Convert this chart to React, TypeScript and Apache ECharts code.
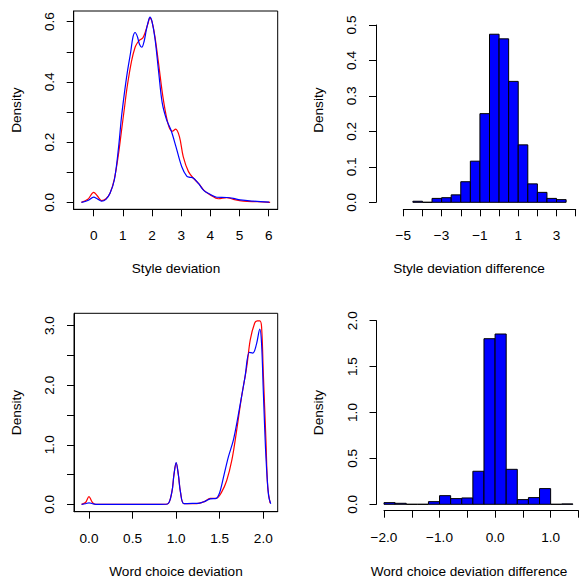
import React, { useEffect, useRef } from 'react';
import * as echarts from 'echarts';

// ---- Panel 1: Style deviation density (red / blue) ----
const styleRedX = [-0.42, -0.2, 0, 0.12, 0.27, 0.42, 0.56, 0.71, 0.85, 0.95, 1.05, 1.15, 1.3, 1.42, 1.5, 1.59, 1.68, 1.75, 1.85, 1.93, 2.0, 2.1, 2.22, 2.39, 2.56, 2.69, 2.81, 2.94, 3.07, 3.25, 3.42, 3.61, 3.79, 4.01, 4.27, 4.56, 4.79, 5.13, 5.6, 6.05];
const styleRedY = [0, 0.01, 0.033, 0.022, 0.006, 0.012, 0.03, 0.078, 0.16, 0.235, 0.31, 0.385, 0.47, 0.515, 0.53, 0.54, 0.545, 0.56, 0.59, 0.612, 0.6, 0.55, 0.465, 0.34, 0.257, 0.236, 0.243, 0.218, 0.152, 0.102, 0.08, 0.061, 0.039, 0.024, 0.012, 0.016, 0.01, 0.004, 0.002, 0];
const styleBlueX = [-0.42, -0.2, 0, 0.12, 0.27, 0.42, 0.56, 0.71, 0.85, 0.95, 1.05, 1.15, 1.27, 1.35, 1.42, 1.5, 1.57, 1.65, 1.73, 1.8, 1.87, 1.93, 2.0, 2.1, 2.22, 2.35, 2.5, 2.65, 2.82, 3.02, 3.19, 3.3, 3.39, 3.59, 3.78, 3.99, 4.22, 4.56, 4.79, 5.02, 5.47, 6.02];
const styleBlueY = [0, 0.006, 0.017, 0.012, 0.004, 0.01, 0.03, 0.075, 0.18, 0.28, 0.36, 0.43, 0.5, 0.55, 0.564, 0.55, 0.525, 0.515, 0.535, 0.57, 0.6, 0.615, 0.6, 0.545, 0.44, 0.33, 0.274, 0.24, 0.185, 0.118, 0.087, 0.083, 0.082, 0.063, 0.039, 0.027, 0.017, 0.016, 0.013, 0.008, 0.004, 0.001];

// ---- Panel 2: Style deviation difference histogram ----
const styleHistBreaks = [-4.5, -4, -3.5, -3, -2.5, -2, -1.5, -1, -0.5, 0, 0.5, 1, 1.5, 2, 2.5, 3, 3.5];
const styleHistDensity = [0.003, 0, 0.011, 0.013, 0.021, 0.058, 0.116, 0.25, 0.474, 0.461, 0.341, 0.162, 0.052, 0.028, 0.011, 0.0075];

// ---- Panel 3: Word choice deviation density ----
const wordRedX = [-0.085, -0.04, 0, 0.035, 0.07, 0.2, 0.5, 0.8, 0.9, 0.95, 0.975, 1.0, 1.025, 1.05, 1.09, 1.2, 1.27, 1.33, 1.39, 1.46, 1.52, 1.58, 1.64, 1.69, 1.75, 1.81, 1.85, 1.9, 1.93, 1.96, 1.98, 2.0, 2.03, 2.05, 2.078];
const wordRedY = [0, 0.03, 0.13, 0.04, 0, 0, 0, 0, 0.005, 0.2, 0.5, 0.69, 0.5, 0.2, 0.01, 0.01, 0.02, 0.05, 0.1, 0.1, 0.2, 0.4, 0.75, 1.2, 1.8, 2.31, 2.76, 3.04, 3.08, 3.08, 2.98, 2.2, 1.08, 0.3, 0.02];
const wordBlueX = [-0.085, -0.04, 0, 0.04, 0.08, 0.2, 0.5, 0.8, 0.9, 0.95, 0.975, 1.0, 1.025, 1.05, 1.09, 1.2, 1.27, 1.33, 1.39, 1.46, 1.5, 1.55, 1.6, 1.66, 1.73, 1.79, 1.84, 1.88, 1.92, 1.96, 1.98, 2.0, 2.03, 2.06, 2.085];
const wordBlueY = [0, 0.01, 0.025, 0.01, 0, 0, 0, 0, 0.005, 0.2, 0.5, 0.7, 0.5, 0.2, 0.01, 0.015, 0.02, 0.05, 0.09, 0.1, 0.2, 0.5, 0.8, 1.1, 1.64, 2.14, 2.55, 2.54, 2.68, 2.94, 2.7, 1.9, 0.8, 0.15, 0.01];

// ---- Panel 4: Word choice deviation difference histogram ----
const wordHistBreaks = [-2.0, -1.8, -1.6, -1.4, -1.2, -1.0, -0.8, -0.6, -0.4, -0.2, 0, 0.2, 0.4, 0.6, 0.8, 1.0, 1.2, 1.4];
const wordHistDensity = [0.018, 0.011, 0, 0, 0.029, 0.094, 0.062, 0.069, 0.36, 1.804, 1.855, 0.381, 0.051, 0.073, 0.171, 0, 0.004];

// ---- Ticks & labels ----
const p1XTicks = [0, 1, 2, 3, 4, 5, 6];
const p1YTicks = [0, 0.1, 0.2, 0.3, 0.4, 0.5, 0.6];
const p1YLabels = [0, 0.2, 0.4, 0.6];
const p2XTicks = [-5, -4, -3, -2, -1, 0, 1, 2, 3, 4];
const p2XLabels = [-5, -3, -1, 1, 3];
const p2YTicks = [0, 0.1, 0.2, 0.3, 0.4, 0.5];
const p3XTicks = [0, 0.5, 1, 1.5, 2];
const p3YTicks = [0, 0.5, 1, 1.5, 2, 2.5, 3];
const p3YLabels = [0, 1, 2, 3];
const p4XTicks = [-2, -1.5, -1, -0.5, 0, 0.5, 1, 1.5];
const p4XLabels = [-2, -1, 0, 1];
const p4YTicks = [0, 0.5, 1, 1.5, 2];

const FONT = '"Liberation Sans", Arial, Helvetica, sans-serif';
const FS = 13.6;

function fmt(v: number, dec: number): string {
  const s = Number(v).toFixed(dec);
  return s.replace('-', '\u2212');
}

function pairs(xs: number[], ys: number[]) {
  return xs.map((x, i) => [x, ys[i]]);
}

function bins(breaks: number[], dens: number[]) {
  return dens.map((d, i) => [breaks[i], breaks[i + 1], d]);
}

function mkX(gridIndex: number, min: number, max: number, ticks: number[], labels: number[], dec: number, offset = 0) {
  return {
    type: 'value', gridIndex, min, max, offset,
    axisLine: { show: true, onZero: false, lineStyle: { color: '#000', width: 1 } },
    axisTick: { show: true, length: 7, customValues: ticks, lineStyle: { color: '#000', width: 1 } },
    axisLabel: { show: true, customValues: labels, margin: 19.5, color: '#000', fontSize: FS, fontFamily: FONT, formatter: (v: number) => fmt(v, dec) },
    splitLine: { show: false },
  };
}

function mkY(gridIndex: number, min: number, max: number, ticks: number[], labels: number[], dec: number, offset = 0) {
  return {
    type: 'value', gridIndex, min, max, offset,
    axisLine: { show: true, onZero: false, lineStyle: { color: '#000', width: 1 } },
    axisTick: { show: true, length: 7, customValues: ticks, lineStyle: { color: '#000', width: 1 } },
    axisLabel: { show: true, customValues: labels, margin: 17.5, rotate: 90, color: '#000', fontSize: FS, fontFamily: FONT, formatter: (v: number) => fmt(v, dec) },
    splitLine: { show: false },
  };
}

function histRender(params: any, api: any) {
  const x0 = api.value(0);
  const x1 = api.value(1);
  const y = api.value(2);
  const p0 = api.coord([x0, y]);
  const p1 = api.coord([x1, 0]);
  return {
    type: 'rect',
    shape: { x: p0[0], y: p0[1], width: p1[0] - p0[0], height: p1[1] - p0[1] },
    style: { fill: '#0000ff', stroke: '#000', lineWidth: 1 },
  };
}

function txt(x: number, y: number, text: string, rot = 0) {
  return {
    type: 'text', x, y, rotation: rot,
    style: { text, font: `${FS}px ${FONT}`, fill: '#000', align: 'center', verticalAlign: 'middle', textAlign: 'center', textVerticalAlign: 'middle' },
  };
}

export default function App() {
  const ref = useRef<HTMLDivElement>(null);
  useEffect(() => {
    if (!ref.current) return;
    const chart = echarts.init(ref.current, undefined, { renderer: 'svg' });
    const boxGrid = { show: true, borderColor: '#000', borderWidth: 1, backgroundColor: 'transparent', outerBoundsMode: 'none', containLabel: false };
    const plainGrid = { show: false, outerBoundsMode: 'none', containLabel: false };
    const lineBase = { type: 'line', symbol: 'none', smooth: 0.35, lineStyle: { width: 1.2 }, silent: true };
    chart.setOption({
      animation: false,
      backgroundColor: '#ffffff',
      grid: [
        { ...boxGrid, left: 73.7, top: 11, width: 204, height: 198.3 },
        { ...plainGrid, left: 403.3, top: 25, width: 172.4, height: 177.3 },
        { ...boxGrid, left: 74, top: 313.3, width: 203.7, height: 198.4 },
        { ...plainGrid, left: 384, top: 320.7, width: 194.4, height: 183.6 },
      ],
      xAxis: [
        mkX(0, -0.685, 6.309, p1XTicks, p1XTicks, 0),
        mkX(1, -5, 4, p2XTicks, p2XLabels, 0, 7),
        mkX(2, -0.172, 2.165, p3XTicks, p3XTicks, 1),
        mkX(3, -2, 1.5, p4XTicks, p4XLabels, 1, 6.4),
      ],
      yAxis: [
        mkY(0, -0.0231, 0.6354, p1YTicks, p1YLabels, 1),
        mkY(1, 0, 0.5, p2YTicks, p2YTicks, 1, 27.3),
        mkY(2, -0.124, 3.207, p3YTicks, p3YLabels, 1),
        mkY(3, 0, 2, p4YTicks, p4YTicks, 1, 7.5),
      ],
      series: [
        { ...lineBase, xAxisIndex: 0, yAxisIndex: 0, data: pairs(styleRedX, styleRedY), lineStyle: { width: 1.2, color: '#ff0000' }, itemStyle: { color: '#ff0000' } },
        { ...lineBase, xAxisIndex: 0, yAxisIndex: 0, data: pairs(styleBlueX, styleBlueY), lineStyle: { width: 1.2, color: '#0000ff' }, itemStyle: { color: '#0000ff' } },
        { type: 'custom', xAxisIndex: 1, yAxisIndex: 1, renderItem: histRender, encode: { x: [0, 1], y: 2 }, data: bins(styleHistBreaks, styleHistDensity), silent: true },
        { ...lineBase, xAxisIndex: 2, yAxisIndex: 2, data: pairs(wordRedX, wordRedY), lineStyle: { width: 1.2, color: '#ff0000' }, itemStyle: { color: '#ff0000' } },
        { ...lineBase, xAxisIndex: 2, yAxisIndex: 2, data: pairs(wordBlueX, wordBlueY), lineStyle: { width: 1.2, color: '#0000ff' }, itemStyle: { color: '#0000ff' } },
        { type: 'custom', xAxisIndex: 3, yAxisIndex: 3, renderItem: histRender, encode: { x: [0, 1], y: 2 }, data: bins(wordHistBreaks, wordHistDensity), silent: true },
      ],
      graphic: [
        txt(176, 268.5, 'Style deviation'),
        txt(469, 268.5, 'Style deviation difference'),
        txt(176, 571, 'Word choice deviation'),
        txt(469, 571, 'Word choice deviation difference'),
        txt(16, 110.2, 'Density', Math.PI / 2),
        txt(318.3, 110.2, 'Density', Math.PI / 2),
        txt(16, 412.5, 'Density', Math.PI / 2),
        txt(318.3, 412.5, 'Density', Math.PI / 2),
      ],
    });
    return () => chart.dispose();
  }, []);
  return <div ref={ref} style={{ position: 'absolute', left: 0, top: 0, width: 579, height: 578, background: '#fff' }} />;
}
